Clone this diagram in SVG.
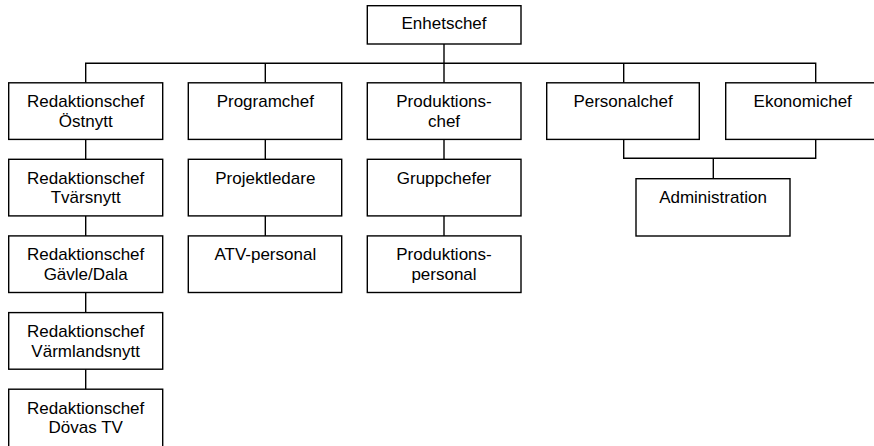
<svg xmlns="http://www.w3.org/2000/svg" width="874" height="446" viewBox="0 0 874 446">
  <style>
    .box { fill: #ffffff; stroke: #000000; stroke-width: 1.4; }
    .wire { fill: none; stroke: #000000; stroke-width: 1.4; }
    .lbl { font-family: "Liberation Sans", Arial, sans-serif; font-size: 17px; fill: #000000; text-anchor: middle; }
  </style>
  <rect width="874" height="446" fill="#ffffff"/>

  <!-- connectors -->
  <g id="connectors" class="wire">
    <path d="M444 44 V63.3"/>
    <path d="M85.7 82.8 V63.3 H815.7 V82.8"/>
    <path d="M265.3 63.3 V82.8 M444 63.3 V82.8 M623.7 63.3 V82.8"/>
    <!-- column 1 chain -->
    <path d="M85.7 139.4 V159.3 M85.7 215.9 V235.9 M85.7 292.5 V312.6 M85.7 369.2 V389.2"/>
    <!-- column 2 chain -->
    <path d="M265.3 139.4 V159.3 M265.3 215.9 V235.9"/>
    <!-- column 3 chain -->
    <path d="M444 139.4 V159.3 M444 215.9 V235.9"/>
    <!-- shared administration -->
    <path d="M623.7 139.4 V158.3 H815.7 V139.4 M713.3 158.3 V178.7"/>
  </g>

  <g id="enhetschef">
    <rect class="box" x="367.3" y="5.7" width="153.7" height="38.3"/>
    <text class="lbl" x="444" y="29.3">Enhetschef</text>
  </g>

  <!-- column 1 -->
  <g id="redaktionschef-ostnytt">
    <rect class="box" x="8.7" y="82.8" width="154" height="56.6"/>
    <text class="lbl" x="85.7" y="107.3">Redaktionschef</text>
    <text class="lbl" x="85.7" y="126.8">Östnytt</text>
  </g>
  <g id="redaktionschef-tvarsnytt">
    <rect class="box" x="8.7" y="159.3" width="154" height="56.6"/>
    <text class="lbl" x="85.7" y="183.8">Redaktionschef</text>
    <text class="lbl" x="85.7" y="203.3">Tvärsnytt</text>
  </g>
  <g id="redaktionschef-gavle-dala">
    <rect class="box" x="8.7" y="235.9" width="154" height="56.6"/>
    <text class="lbl" x="85.7" y="260.4">Redaktionschef</text>
    <text class="lbl" x="85.7" y="279.9">Gävle/Dala</text>
  </g>
  <g id="redaktionschef-varmlandsnytt">
    <rect class="box" x="8.7" y="312.6" width="154" height="56.6"/>
    <text class="lbl" x="85.7" y="337.1">Redaktionschef</text>
    <text class="lbl" x="85.7" y="356.6">Värmlandsnytt</text>
  </g>
  <g id="redaktionschef-dovas-tv">
    <rect class="box" x="8.7" y="389.2" width="154" height="60"/>
    <text class="lbl" x="85.7" y="413.7">Redaktionschef</text>
    <text class="lbl" x="85.7" y="433.2">Dövas TV</text>
  </g>

  <!-- column 2 -->
  <g id="programchef">
    <rect class="box" x="188.3" y="82.8" width="153.4" height="56.6"/>
    <text class="lbl" x="265.3" y="107.3">Programchef</text>
  </g>
  <g id="projektledare">
    <rect class="box" x="188.3" y="159.3" width="153.4" height="56.6"/>
    <text class="lbl" x="265.3" y="183.8">Projektledare</text>
  </g>
  <g id="atv-personal">
    <rect class="box" x="188.3" y="235.9" width="153.4" height="56.6"/>
    <text class="lbl" x="265.3" y="260.4">ATV-personal</text>
  </g>

  <!-- column 3 -->
  <g id="produktionschef">
    <rect class="box" x="367.3" y="82.8" width="153.7" height="56.6"/>
    <text class="lbl" x="444" y="107.3">Produktions-</text>
    <text class="lbl" x="444" y="126.8">chef</text>
  </g>
  <g id="gruppchefer">
    <rect class="box" x="367.3" y="159.3" width="153.7" height="56.6"/>
    <text class="lbl" x="444" y="183.8">Gruppchefer</text>
  </g>
  <g id="produktionspersonal">
    <rect class="box" x="367.3" y="235.9" width="153.7" height="56.6"/>
    <text class="lbl" x="444" y="260.4">Produktions-</text>
    <text class="lbl" x="444" y="279.9">personal</text>
  </g>

  <!-- columns 4 and 5 -->
  <g id="personalchef">
    <rect class="box" x="546.7" y="82.8" width="152.6" height="56.6"/>
    <text class="lbl" x="623" y="107.3">Personalchef</text>
  </g>
  <g id="ekonomichef">
    <rect class="box" x="725.7" y="82.8" width="154" height="56.6"/>
    <text class="lbl" x="802.7" y="107.3">Ekonomichef</text>
  </g>
  <g id="administration">
    <rect class="box" x="636" y="178.7" width="154" height="57.3"/>
    <text class="lbl" x="713" y="202.5">Administration</text>
  </g>
</svg>
